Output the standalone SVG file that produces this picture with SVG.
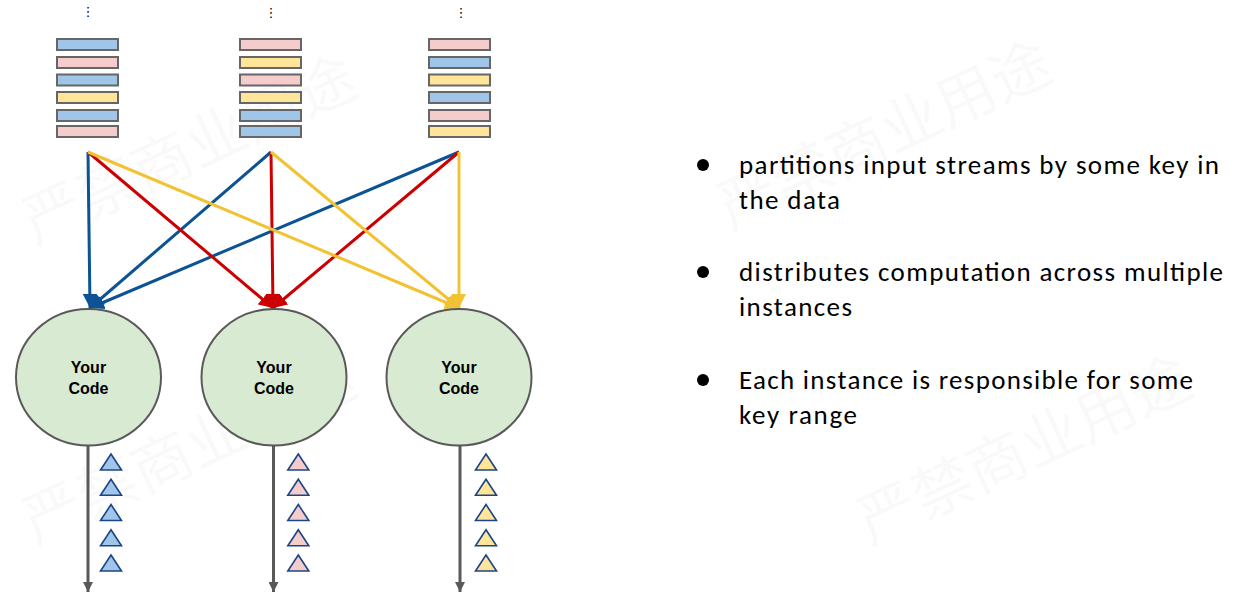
<svg xmlns="http://www.w3.org/2000/svg" xmlns:xlink="http://www.w3.org/1999/xlink" width="1257" height="604" viewBox="0 0 1257 604">
<style>
.wm{font-family:"Noto Sans CJK SC",sans-serif;font-size:60px;fill:#000;fill-opacity:0.025}
.bl{fill:#9fc5e8}.pk{fill:#f4cccc}.yl{fill:#ffe599}
.rec{stroke:#666;stroke-width:2}
.tri{stroke:#1c4587;stroke-width:1.6;stroke-linejoin:miter}
.node ellipse{fill:#d9ead3;stroke:#595959;stroke-width:2}
.lbl{font-family:"Liberation Sans",Arial,sans-serif;font-weight:bold;font-size:16px;fill:#000;text-anchor:middle}
.cb{stroke:#0b5394}.cr{stroke:#cc0000}.cy{stroke:#f1c232}
.conn line{stroke-width:3;fill:none}
.out{stroke:#595959;stroke-width:3}
.dots{font-family:"DejaVu Sans",sans-serif;font-size:13px;fill:#000;text-anchor:middle}
.txt{font-family:Calibri,Carlito,Lato,sans-serif;font-size:27px;fill:#000}
</style>
<defs>
<marker id="ab" markerUnits="userSpaceOnUse" markerWidth="14" markerHeight="14" refX="12" refY="6" orient="auto" viewBox="0 0 12 12"><path d="M0,0 L12,6 L0,12 Z" fill="#0b5394"/></marker>
<marker id="ar" markerUnits="userSpaceOnUse" markerWidth="14" markerHeight="14" refX="12" refY="6" orient="auto" viewBox="0 0 12 12"><path d="M0,0 L12,6 L0,12 Z" fill="#cc0000"/></marker>
<marker id="ay" markerUnits="userSpaceOnUse" markerWidth="14" markerHeight="14" refX="12" refY="6" orient="auto" viewBox="0 0 12 12"><path d="M0,0 L12,6 L0,12 Z" fill="#f1c232"/></marker>
<marker id="ag" markerUnits="userSpaceOnUse" markerWidth="10" markerHeight="10" refX="10" refY="5" orient="auto" viewBox="0 0 10 10"><path d="M0,0 L10,5 L0,10 Z" fill="#595959"/></marker>
<path id="tri" d="M0,0 L10.5,16 L-10.5,16 Z"/>
</defs>
<rect width="1257" height="604" fill="#fff"/>
<g id="watermark">
<text class="wm" transform="translate(35,245) rotate(-25)">严禁商业用途</text>
<text class="wm" transform="translate(730,230) rotate(-25)">严禁商业用途</text>
<text class="wm" transform="translate(870,545) rotate(-25)">严禁商业用途</text>
<text class="wm" transform="translate(35,545) rotate(-25)">严禁商业用途</text>
</g>
<g id="stream1">
<text class="dots" x="88" y="16">⋮</text>
<rect class="rec bl" x="57" y="39" width="61" height="11"/>
<rect class="rec pk" x="57" y="57" width="61" height="11"/>
<rect class="rec bl" x="57" y="74.5" width="61" height="11"/>
<rect class="rec yl" x="57" y="92" width="61" height="11"/>
<rect class="rec bl" x="57" y="110" width="61" height="11"/>
<rect class="rec pk" x="57" y="126" width="61" height="11"/>
</g>
<g id="stream2">
<text class="dots" x="271" y="17">⋮</text>
<rect class="rec pk" x="240" y="39" width="61" height="11"/>
<rect class="rec yl" x="240" y="57" width="61" height="11"/>
<rect class="rec pk" x="240" y="74.5" width="61" height="11"/>
<rect class="rec yl" x="240" y="92" width="61" height="11"/>
<rect class="rec bl" x="240" y="110" width="61" height="11"/>
<rect class="rec bl" x="240" y="126" width="61" height="11"/>
</g>
<g id="stream3">
<text class="dots" x="461" y="17">⋮</text>
<rect class="rec pk" x="429" y="39" width="61" height="11"/>
<rect class="rec bl" x="429" y="57" width="61" height="11"/>
<rect class="rec yl" x="429" y="74.5" width="61" height="11"/>
<rect class="rec bl" x="429" y="92" width="61" height="11"/>
<rect class="rec pk" x="429" y="110" width="61" height="11"/>
<rect class="rec yl" x="429" y="126" width="61" height="11"/>
</g>
<g id="connectors" class="conn">
<line class="cb" x1="88" y1="152" x2="90" y2="308" marker-end="url(#ab)"/>
<line class="cb" x1="271" y1="152" x2="90" y2="308" marker-end="url(#ab)"/>
<line class="cb" x1="459" y1="152" x2="90" y2="308" marker-end="url(#ab)"/>
<line class="cr" x1="88" y1="152" x2="273" y2="308" marker-end="url(#ar)"/>
<line class="cr" x1="271" y1="152" x2="273" y2="308" marker-end="url(#ar)"/>
<line class="cr" x1="459" y1="152" x2="273" y2="308" marker-end="url(#ar)"/>
<line class="cy" x1="88" y1="152" x2="459" y2="308" marker-end="url(#ay)"/>
<line class="cy" x1="271" y1="152" x2="459" y2="308" marker-end="url(#ay)"/>
<line class="cy" x1="459" y1="152" x2="459" y2="308" marker-end="url(#ay)"/>
<line class="out" x1="88" y1="446" x2="88" y2="592" marker-end="url(#ag)"/>
<line class="out" x1="273.5" y1="446" x2="273.5" y2="592" marker-end="url(#ag)"/>
<line class="out" x1="460" y1="446" x2="460" y2="592" marker-end="url(#ag)"/>
</g>
<g id="node1" class="node">
<ellipse cx="88.5" cy="377.3" rx="72.5" ry="68.3"/>
<text class="lbl" x="88.5" y="373">Your</text>
<text class="lbl" x="88.5" y="394">Code</text>
</g>
<g id="node2" class="node">
<ellipse cx="274" cy="377.3" rx="72.5" ry="68.3"/>
<text class="lbl" x="274" y="373">Your</text>
<text class="lbl" x="274" y="394">Code</text>
</g>
<g id="node3" class="node">
<ellipse cx="459" cy="377.3" rx="72.5" ry="68.3"/>
<text class="lbl" x="459" y="373">Your</text>
<text class="lbl" x="459" y="394">Code</text>
</g>
<g id="output1">
<use xlink:href="#tri" href="#tri" class="tri bl" x="111" y="454"/>
<use xlink:href="#tri" href="#tri" class="tri bl" x="111" y="479.25"/>
<use xlink:href="#tri" href="#tri" class="tri bl" x="111" y="504.5"/>
<use xlink:href="#tri" href="#tri" class="tri bl" x="111" y="529.75"/>
<use xlink:href="#tri" href="#tri" class="tri bl" x="111" y="555"/>
</g>
<g id="output2">
<use xlink:href="#tri" href="#tri" class="tri pk" x="298.3" y="454"/>
<use xlink:href="#tri" href="#tri" class="tri pk" x="298.3" y="479.25"/>
<use xlink:href="#tri" href="#tri" class="tri pk" x="298.3" y="504.5"/>
<use xlink:href="#tri" href="#tri" class="tri pk" x="298.3" y="529.75"/>
<use xlink:href="#tri" href="#tri" class="tri pk" x="298.3" y="555"/>
</g>
<g id="output3">
<use xlink:href="#tri" href="#tri" class="tri yl" x="486" y="454"/>
<use xlink:href="#tri" href="#tri" class="tri yl" x="486" y="479.25"/>
<use xlink:href="#tri" href="#tri" class="tri yl" x="486" y="504.5"/>
<use xlink:href="#tri" href="#tri" class="tri yl" x="486" y="529.75"/>
<use xlink:href="#tri" href="#tri" class="tri yl" x="486" y="555"/>
</g>
<g id="bullets">
<circle cx="703" cy="165" r="6"/>
<circle cx="703" cy="272" r="6"/>
<circle cx="703" cy="380" r="6"/>
<text class="txt" x="739" y="174" textLength="480">partitions input streams by some key in</text>
<text class="txt" x="739" y="209" textLength="101">the data</text>
<text class="txt" x="739" y="281" textLength="484">distributes computation across multiple</text>
<text class="txt" x="739" y="316" textLength="113">instances</text>
<text class="txt" x="739" y="389" textLength="454">Each instance is responsible for some</text>
<text class="txt" x="739" y="424" textLength="118">key range</text>
</g>
</svg>
